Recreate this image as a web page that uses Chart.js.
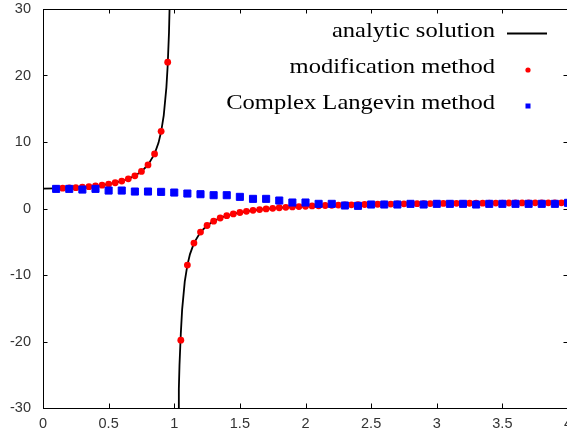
<!DOCTYPE html>
<html>
<head>
<meta charset="utf-8">
<script src="https://cdn.jsdelivr.net/npm/chart.js@4"></script>
<style>
  html, body { margin: 0; padding: 0; overflow: hidden; background: #fff; }
  #wrap { width: 567px; height: 436px; overflow: hidden; }
</style>
</head>
<body>
<div id="wrap"><canvas id="myChart" width="580" height="436"></canvas></div>
<script>
const seriesNames = ['analytic solution', 'modification method', 'Complex Langevin method'];

const xTicks = [0, 0.5, 1, 1.5, 2, 2.5, 3, 3.5, 4];
const yTicks = [-30, -20, -10, 0, 10, 20, 30];

// analytic curve, gap (null) at the pole near x = 1
const analyticX = [0, 0.1, 0.2, 0.3, 0.4, 0.5, 0.6, 0.65, 0.7, 0.75, 0.8, 0.85, 0.88, 0.9, 0.92, 0.94, 0.95, 0.96, 0.97,
    1.0,
    1.03, 1.035, 1.04, 1.05, 1.06, 1.08, 1.1, 1.12, 1.15, 1.2, 1.25, 1.3, 1.35, 1.4, 1.5, 1.6, 1.7, 1.8, 1.9,
    2.0, 2.25, 2.5, 2.75, 3.0, 3.25, 3.5, 3.75, 4.0];
const analyticY = [3.0, 3.02, 3.08, 3.2, 3.38, 3.67, 4.13, 4.46, 4.92, 5.57, 6.56, 8.21, 9.87, 11.53, 14.02, 18.18, 21.5, 26.5, 34.8,
    null,
    -31.8, -27.1, -23.5, -18.8, -15.2, -11.0, -8.52, -6.86, -5.2, -3.55, -2.56, -1.9, -1.43, -1.08, -0.6, -0.28, -0.06, 0.11, 0.23,
    0.33, 0.51, 0.62, 0.70, 0.75, 0.79, 0.82, 0.85, 0.87];

const modX = [0.1, 0.15, 0.2, 0.25, 0.3, 0.35, 0.4, 0.45, 0.5, 0.55, 0.6, 0.65, 0.7, 0.75, 0.8, 0.85, 0.9, 0.95,
    1.05, 1.1, 1.15, 1.2, 1.25, 1.3, 1.35, 1.4, 1.45, 1.5, 1.55, 1.6, 1.65, 1.7, 1.75, 1.8, 1.85, 1.9, 1.95,
    2.0, 2.05, 2.1, 2.15, 2.2, 2.25, 2.3, 2.35, 2.4, 2.45, 2.5, 2.55, 2.6, 2.65, 2.7, 2.75, 2.8, 2.85, 2.9, 2.95,
    3.0, 3.05, 3.1, 3.15, 3.2, 3.25, 3.3, 3.35, 3.4, 3.45, 3.5, 3.55, 3.6, 3.65, 3.7, 3.75, 3.8, 3.85, 3.9, 3.95, 4.0];
const modY = [3.02, 3.05, 3.08, 3.13, 3.2, 3.28, 3.38, 3.51, 3.67, 3.87, 4.13, 4.46, 4.92, 5.57, 6.56, 8.2, 11.6, 22.0,
    -19.8, -8.5, -5.2, -3.55, -2.56, -1.9, -1.43, -1.08, -0.81, -0.6, -0.43, -0.28, -0.16, -0.06, 0.03, 0.11, 0.17, 0.23, 0.29,
    0.33, 0.38, 0.41, 0.45, 0.48, 0.51, 0.53, 0.56, 0.58, 0.6, 0.62, 0.64, 0.65, 0.67, 0.68, 0.7, 0.71, 0.72, 0.73, 0.74,
    0.75, 0.76, 0.77, 0.78, 0.78, 0.79, 0.8, 0.8, 0.81, 0.82, 0.82, 0.83, 0.83, 0.84, 0.84, 0.85, 0.85, 0.85, 0.86, 0.86, 0.87];

const clX = [0.1, 0.2, 0.3, 0.4, 0.5, 0.6, 0.7, 0.8, 0.9, 1.0, 1.1, 1.2, 1.3, 1.4, 1.5, 1.6, 1.7, 1.8, 1.9, 2.0,
    2.1, 2.2, 2.3, 2.4, 2.5, 2.6, 2.7, 2.8, 2.9, 3.0, 3.1, 3.2, 3.3, 3.4, 3.5, 3.6, 3.7, 3.8, 3.9, 4.0];
const clY = [2.95, 2.95, 2.85, 2.95, 2.7, 2.7, 2.55, 2.55, 2.5, 2.4, 2.25, 2.15, 2.0, 2.0, 1.75, 1.45, 1.45, 1.2, 0.9, 0.9,
    0.7, 0.7, 0.45, 0.4, 0.6, 0.6, 0.6, 0.7, 0.6, 0.7, 0.7, 0.7, 0.6, 0.7, 0.7, 0.7, 0.7, 0.7, 0.7, 0.85];

const toPoints = (xs, ys) => xs.map((x, i) => ({x: x, y: ys[i]}));

// gnuplot-like frame with inward ticks on all four sides
const framePlugin = {
    id: 'frame',
    afterDatasetsDraw(chart) {
        const {ctx, chartArea: a, scales} = chart;
        ctx.save();
        ctx.strokeStyle = '#000';
        ctx.lineWidth = 1;
        ctx.beginPath();
        ctx.rect(a.left + 0.5, a.top + 0.5, a.right - a.left, a.bottom - a.top);
        xTicks.forEach(v => {
            const px = Math.round(scales.x.getPixelForValue(v)) + 0.5;
            ctx.moveTo(px, a.bottom); ctx.lineTo(px, a.bottom - 4.5);
            ctx.moveTo(px, a.top); ctx.lineTo(px, a.top + 4.5);
        });
        yTicks.forEach(v => {
            const py = Math.round(scales.y.getPixelForValue(v)) + 0.5;
            ctx.moveTo(a.left, py); ctx.lineTo(a.left + 4.5, py);
            ctx.moveTo(a.right, py); ctx.lineTo(a.right - 4.5, py);
        });
        ctx.stroke();
        ctx.restore();
    }
};

// legend in the top right corner: text first, sample on its right
const keyPlugin = {
    id: 'key',
    afterDraw(chart) {
        const ctx = chart.ctx;
        const textRight = 495, sampleX = 528;
        ctx.save();
        ctx.font = '21px "Liberation Serif", "Times New Roman", serif';
        ctx.fillStyle = '#000';
        ctx.textAlign = 'right';
        ctx.textBaseline = 'alphabetic';
        seriesNames.forEach((name, i) => {
            const y = 36.7 + i * 36.3;
            ctx.save();
            ctx.translate(textRight, y);
            ctx.scale(1.17, 1);
            ctx.fillText(name, 0, 0);
            ctx.restore();
        });
        ctx.strokeStyle = '#000';
        ctx.lineWidth = 1.8;
        ctx.beginPath();
        ctx.moveTo(507, 33.5);
        ctx.lineTo(547, 33.5);
        ctx.stroke();
        ctx.fillStyle = '#ff0000';
        ctx.beginPath();
        ctx.arc(sampleX, 70, 2.6, 0, Math.PI * 2);
        ctx.fill();
        ctx.fillStyle = '#0000ff';
        ctx.fillRect(sampleX - 2.5, 103.5, 5, 5);
        ctx.restore();
    }
};

const tickFont = {family: '"Liberation Sans", Arial, sans-serif', size: 14.5};
const plainNumber = v => String(v);

const config = {
    type: 'scatter',
    data: {
        datasets: [{
            label: seriesNames[0],
            data: toPoints(analyticX, analyticY),
            showLine: true,
            spanGaps: false,
            borderColor: '#000',
            borderWidth: 1.8,
            pointRadius: 0,
            tension: 0,
            order: 3
        }, {
            label: seriesNames[1],
            data: toPoints(modX, modY),
            backgroundColor: '#ff0000',
            borderColor: '#ff0000',
            borderWidth: 0,
            pointRadius: 3.4,
            order: 2
        }, {
            label: seriesNames[2],
            data: toPoints(clX, clY),
            backgroundColor: '#0000ff',
            borderColor: '#0000ff',
            borderWidth: 1,
            pointStyle: 'rect',
            pointRadius: 5,
            order: 1
        }]
    },
    options: {
        responsive: false,
        animation: false,
        layout: {padding: {top: 9, right: 12, left: 0, bottom: 0}},
        plugins: {
            legend: {display: false},
            tooltip: {enabled: false}
        },
        scales: {
            x: {
                type: 'linear',
                min: 0,
                max: 4,
                grid: {display: false, drawTicks: false},
                border: {display: false},
                afterFit: scale => {
                    scale.height = 28;
                    scale.paddingLeft = 0; scale.paddingRight = 0;
                    scale.paddingTop = 0; scale.paddingBottom = 0;
                },
                afterBuildTicks: scale => { scale.ticks = xTicks.map(v => ({value: v})); },
                ticks: {font: tickFont, color: '#333', padding: 7, maxRotation: 0, autoSkip: false, callback: plainNumber}
            },
            y: {
                type: 'linear',
                min: -30,
                max: 30,
                grid: {display: false, drawTicks: false},
                border: {display: false},
                afterFit: scale => {
                    scale.width = 43;
                    scale.paddingLeft = 0; scale.paddingRight = 0;
                    scale.paddingTop = 0; scale.paddingBottom = 0;
                },
                afterBuildTicks: scale => { scale.ticks = yTicks.map(v => ({value: v})); },
                ticks: {font: tickFont, color: '#333', padding: 12, callback: plainNumber}
            }
        }
    },
    plugins: [framePlugin, keyPlugin]
};

const myChart = new Chart(document.getElementById('myChart'), config);
</script>
</body>
</html>
